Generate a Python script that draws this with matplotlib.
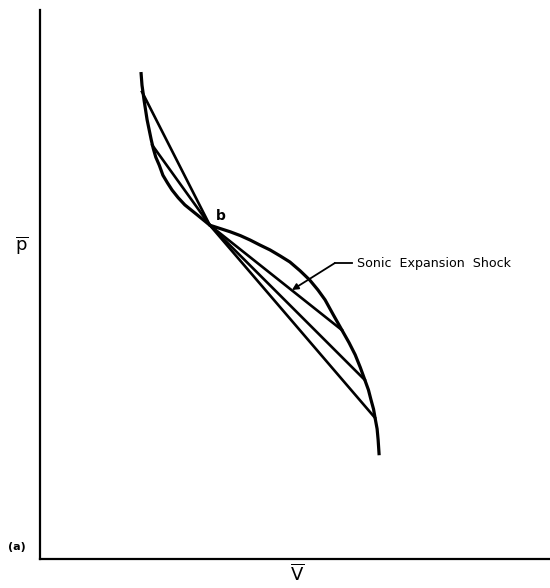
import matplotlib
matplotlib.use("Agg")
import matplotlib.pyplot as plt

plt.rcParams['mathtext.fontset'] = 'dejavusans'
plt.rcParams['font.family'] = ['DejaVu Sans']

# Main curve (V, p), from top-left end to bottom-right end
v_curve = [1.98, 1.99, 2.00, 2.02, 2.04, 2.07, 2.10, 2.14, 2.18, 2.22, 2.27, 2.34, 2.41,
           2.50, 2.59, 2.71, 2.84, 2.96, 3.08, 3.33,
           3.53, 3.73, 3.93, 4.12, 4.31, 4.51, 4.71, 4.90, 5.10, 5.29, 5.45, 5.59,
           5.75, 5.92, 6.06, 6.18, 6.28, 6.37, 6.44, 6.49, 6.54, 6.57, 6.61, 6.63, 6.65]
p_curve = [8.87, 8.75, 8.63, 8.50, 8.36, 8.18, 8.00, 7.82, 7.64, 7.48, 7.32, 7.17, 6.99,
           6.85, 6.72, 6.58, 6.45, 6.36, 6.27, 6.08,
           6.02, 5.96, 5.89, 5.81, 5.72, 5.63, 5.52, 5.41, 5.25, 5.08, 4.90, 4.72,
           4.45, 4.17, 3.94, 3.72, 3.49, 3.26, 3.08, 2.90, 2.73, 2.57, 2.37, 2.17, 1.89]

# Point b
v_b, p_b = 3.33, 6.08
# Chord end points on the curve (straight lines from b)
v_chord = [2.00, 2.20, 5.92, 6.37, 6.57]
p_chord = [8.51, 7.54, 4.17, 3.26, 2.57]

# Annotation leader
v_lead = [6.12, 5.78]
p_lead = [5.39, 5.39]
v_tip, p_tip = 4.94, 4.90

fig = plt.figure(figsize=(5.5, 5.88), dpi=100)
ax = fig.add_axes([40/550, 29/588, 510/550, 549/588])
ax.set_xlim(0, 10)
ax.set_ylim(0, 10)

ax.plot(v_curve, p_curve, color='black', lw=2.3, solid_capstyle='butt', solid_joinstyle='round')
for vc, pc in zip(v_chord, p_chord):
    ax.plot([v_b, vc], [p_b, pc], color='black', lw=1.9)

ax.plot(v_lead, p_lead, color='black', lw=1.3)
ax.annotate('', xy=(v_tip, p_tip), xytext=(v_lead[1], p_lead[1]),
            arrowprops=dict(arrowstyle='-|>', color='black', lw=1.3,
                            mutation_scale=9, shrinkA=0, shrinkB=0))
ax.text(6.22, 5.39, 'Sonic  Expansion  Shock', fontsize=9.1, va='center', ha='left')
ax.text(3.45, 6.24, 'b', fontsize=10, fontweight='bold', va='center', ha='left')

for s in ['top', 'right']:
    ax.spines[s].set_visible(False)
for s in ['left', 'bottom']:
    ax.spines[s].set_linewidth(1.6)
ax.set_xticks([])
ax.set_yticks([])

fig.text(22/550, 1 - 245/588, r'$\overline{\mathsf{p}}$', fontsize=13, ha='center', va='center')
fig.text(297/550, 1 - 574/588, r'$\overline{\mathsf{V}}$', fontsize=13, ha='center', va='center')
fig.text(17/550, 1 - 547/588, '(a)', fontsize=8, fontweight='bold', ha='center', va='center')

fig.savefig('out.png', dpi=100)
